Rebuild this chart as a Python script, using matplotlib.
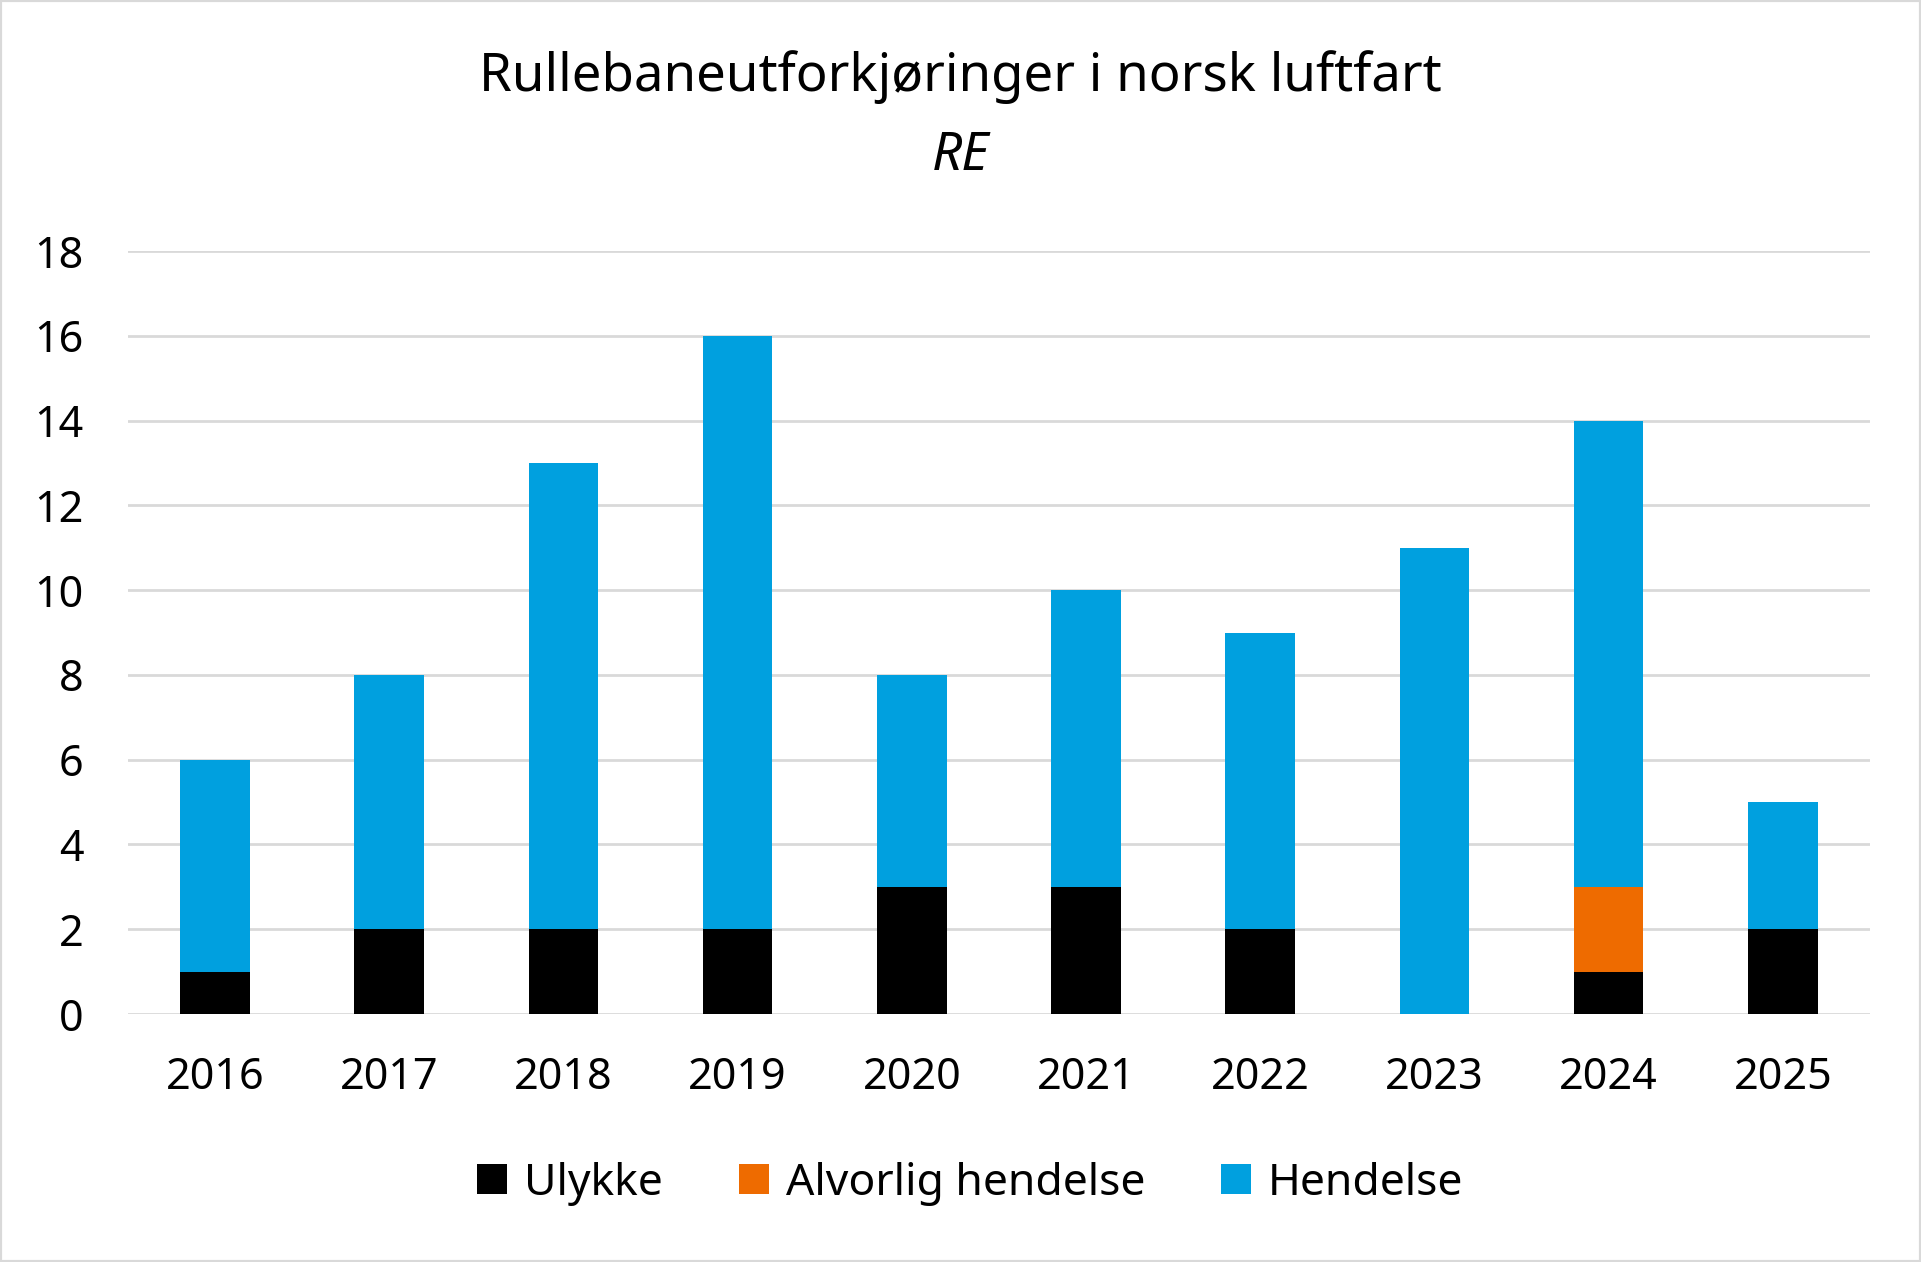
import numpy as np
import matplotlib
matplotlib.use('Agg')
import matplotlib.pyplot as plt
from matplotlib.patches import Rectangle

years = ['2016', '2017', '2018', '2019', '2020', '2021', '2022', '2023', '2024', '2025']
ulykke = [1, 2, 2, 2, 3, 3, 2, 0, 1, 2]
alvorlig = [0, 0, 0, 0, 0, 0, 0, 0, 2, 0]
hendelse = [5, 6, 11, 14, 5, 7, 7, 11, 11, 3]

plt.rcParams['font.family'] = ['Noto Sans', 'DejaVu Sans']

fig = plt.figure(figsize=(19.21, 12.62), dpi=100)
ax = fig.add_axes([0.0666, 0.1965, 0.9068, 0.6045])

x = np.arange(len(years))
w = 0.4
u = np.array(ulykke)
a = np.array(alvorlig)
h = np.array(hendelse)
ax.bar(x, u, w, color='#000000', label='Ulykke', zorder=3)
ax.bar(x, a, w, bottom=u, color='#EE6B00', label='Alvorlig hendelse', zorder=3)
ax.bar(x, h, w, bottom=u + a, color='#00A0DF', label='Hendelse', zorder=3)

ax.set_xlim(-0.5, len(years) - 0.5)
ax.set_ylim(0, 18)
ax.set_yticks(range(0, 19, 2))
ax.set_xticks(x)
ax.set_xticklabels(years)
ax.yaxis.grid(True, color='#D9D9D9', lw=2)
ax.set_axisbelow(True)
for s in ax.spines.values():
    s.set_visible(False)
ax.tick_params(axis='both', length=0, labelsize=31)
ax.tick_params(axis='y', pad=32)
ax.tick_params(axis='x', pad=30)

fig.text(0.5, 0.939, 'Rullebaneutforkjøringer i norsk luftfart', ha='center', va='center', fontsize=38)
fig.text(0.5, 0.876, 'RE', ha='center', va='center', fontsize=38, style='italic')

leg = fig.legend(loc='center', bbox_to_anchor=(0.505, 0.062), ncol=3, frameon=False,
                 fontsize=32, handlelength=0.68, handleheight=0.68, columnspacing=1.7, handletextpad=0.38)

fig.patches.append(Rectangle((0, 0), 1, 1, transform=fig.transFigure, fill=False,
                             edgecolor='#D9D9D9', lw=3))

fig.savefig('out.png', dpi=100)
